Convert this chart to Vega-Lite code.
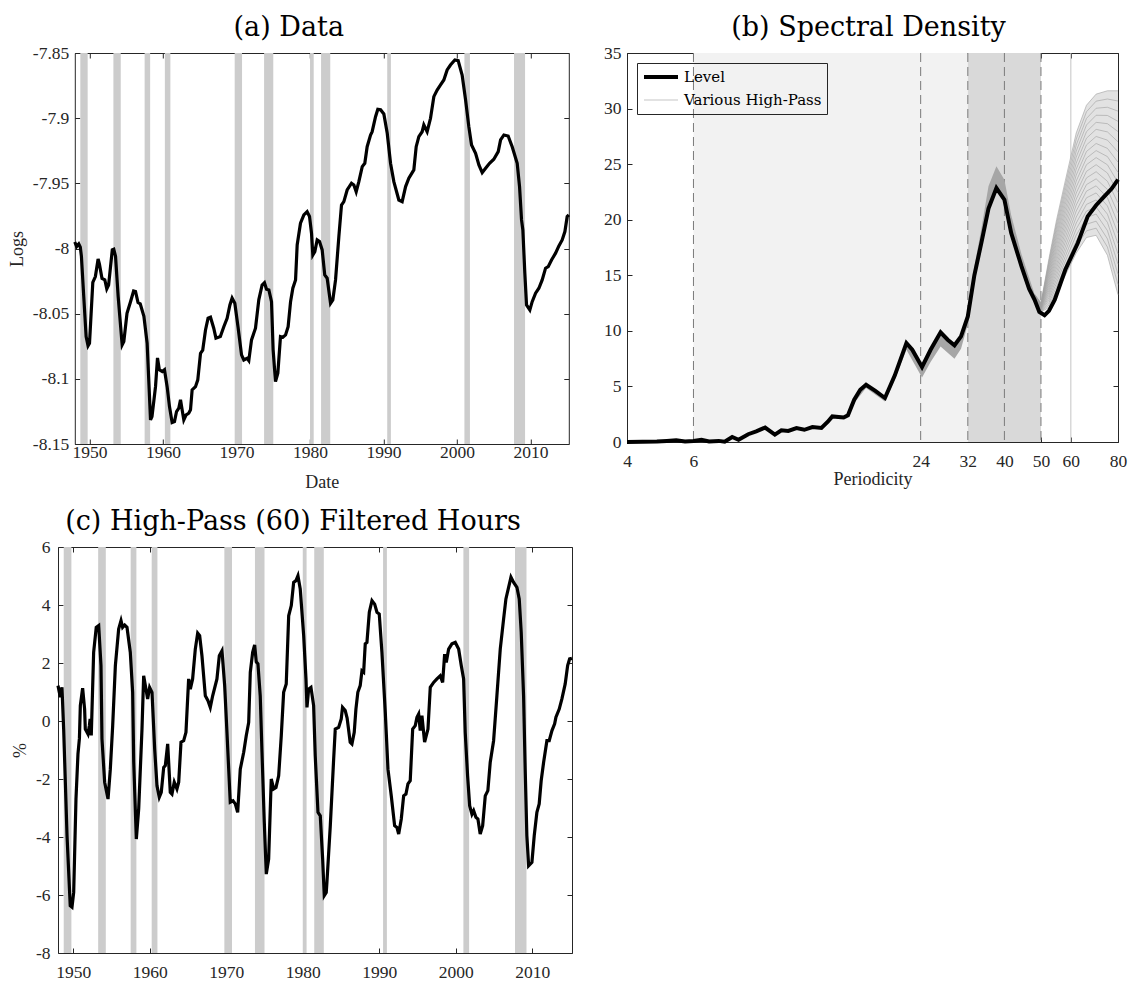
{
  "$schema": "https://vega.github.io/schema/vega-lite/v6.json",
  "padding": {"left": 8, "top": 14, "right": 2, "bottom": 0},
  "background": "white",
  "config": {
    "locale": {"number": {"decimal": ".", "thousands": ",", "grouping": [3], "currency": ["$", ""], "minus": "-"}},
    "view": {"stroke": null},
    "title": {"font": "DejaVu Serif", "fontSize": 27, "fontWeight": "normal", "color": "#000000", "baseline": "alphabetic", "offset": 2},
    "axis": {"domain": true, "domainColor": "#262626", "domainWidth": 1, "grid": false, "ticks": true, "tickSize": -5, "tickColor": "#262626", "tickWidth": 1, "labelFont": "Liberation Serif", "labelFontSize": 17.5, "labelColor": "#262626", "titleFont": "Liberation Serif", "titleFontSize": 18, "titleFontWeight": "normal", "titleColor": "#262626", "labelFlush": false, "labelOverlap": false, "zindex": 1},
    "legend": {"orient": "top-left", "offset": 10, "padding": 5, "rowPadding": 5, "clipHeight": 18, "strokeColor": "#262626", "symbolType": "stroke", "symbolSize": 1156, "labelFont": "DejaVu Serif", "labelFontSize": 15, "labelColor": "#000000", "labelOffset": 4, "cornerRadius": 0}
  },
  "datasets": {
    "rec": [
      {"s": 1948.75, "e": 1949.75}, {"s": 1953.25, "e": 1954.25}, {"s": 1957.5, "e": 1958.25}, {"s": 1960.25, "e": 1961.0},
      {"s": 1969.75, "e": 1970.75}, {"s": 1973.75, "e": 1975.0}, {"s": 1980.0, "e": 1980.5}, {"s": 1981.5, "e": 1982.75},
      {"s": 1990.5, "e": 1991.0}, {"s": 2001.0, "e": 2001.75}, {"s": 2007.75, "e": 2009.25}
    ],
    "hours": [
      {"t": 1948.0, "v": -7.995}, {"t": 1948.25, "v": -7.9985}, {"t": 1948.54, "v": -7.9965}, {"t": 1948.75, "v": -7.999},
      {"t": 1948.9, "v": -8.006}, {"t": 1949.22, "v": -8.037}, {"t": 1949.54, "v": -8.0676}, {"t": 1949.8, "v": -8.0747},
      {"t": 1950.0, "v": -8.0727}, {"t": 1950.1, "v": -8.0625}, {"t": 1950.45, "v": -8.026}, {"t": 1950.8, "v": -8.0215},
      {"t": 1951.17, "v": -8.008}, {"t": 1951.35, "v": -8.012}, {"t": 1951.7, "v": -8.023}, {"t": 1952.08, "v": -8.024},
      {"t": 1952.35, "v": -8.031}, {"t": 1952.6, "v": -8.028}, {"t": 1953.1, "v": -8.001}, {"t": 1953.3, "v": -8.0005},
      {"t": 1953.54, "v": -8.006}, {"t": 1953.9, "v": -8.037}, {"t": 1954.44, "v": -8.074}, {"t": 1954.67, "v": -8.0714},
      {"t": 1955.1, "v": -8.0497}, {"t": 1955.58, "v": -8.0408}, {"t": 1956.0, "v": -8.0326}, {"t": 1956.26, "v": -8.033},
      {"t": 1956.6, "v": -8.0415}, {"t": 1956.9, "v": -8.0425}, {"t": 1957.4, "v": -8.052}, {"t": 1957.84, "v": -8.0727},
      {"t": 1958.3, "v": -8.1315}, {"t": 1958.5, "v": -8.129}, {"t": 1958.98, "v": -8.106}, {"t": 1959.25, "v": -8.084},
      {"t": 1959.5, "v": -8.093}, {"t": 1959.9, "v": -8.0944}, {"t": 1960.2, "v": -8.093}, {"t": 1960.56, "v": -8.106},
      {"t": 1960.88, "v": -8.1213}, {"t": 1961.24, "v": -8.1335}, {"t": 1961.56, "v": -8.1328}, {"t": 1961.84, "v": -8.1251},
      {"t": 1962.15, "v": -8.1225}, {"t": 1962.38, "v": -8.1161}, {"t": 1962.6, "v": -8.1238}, {"t": 1962.83, "v": -8.1315},
      {"t": 1963.15, "v": -8.1277}, {"t": 1963.5, "v": -8.1264}, {"t": 1963.74, "v": -8.1238}, {"t": 1963.96, "v": -8.1085},
      {"t": 1964.42, "v": -8.106}, {"t": 1964.73, "v": -8.1008}, {"t": 1965.1, "v": -8.0804}, {"t": 1965.4, "v": -8.078},
      {"t": 1965.78, "v": -8.0625}, {"t": 1966.13, "v": -8.0535}, {"t": 1966.46, "v": -8.0527}, {"t": 1966.9, "v": -8.0612},
      {"t": 1967.2, "v": -8.0688}, {"t": 1967.8, "v": -8.0676}, {"t": 1968.27, "v": -8.06}, {"t": 1968.72, "v": -8.0535},
      {"t": 1969.1, "v": -8.0433}, {"t": 1969.4, "v": -8.0381}, {"t": 1969.77, "v": -8.042}, {"t": 1970.2, "v": -8.06},
      {"t": 1970.68, "v": -8.0816}, {"t": 1970.99, "v": -8.0855}, {"t": 1971.44, "v": -8.0842}, {"t": 1971.67, "v": -8.086},
      {"t": 1972.04, "v": -8.0701}, {"t": 1972.58, "v": -8.0612}, {"t": 1973.03, "v": -8.0394}, {"t": 1973.48, "v": -8.028},
      {"t": 1973.8, "v": -8.0262}, {"t": 1974.08, "v": -8.0312}, {"t": 1974.4, "v": -8.0318}, {"t": 1974.76, "v": -8.0408},
      {"t": 1974.98, "v": -8.0778}, {"t": 1975.3, "v": -8.1021}, {"t": 1975.62, "v": -8.0957}, {"t": 1975.98, "v": -8.0676},
      {"t": 1976.3, "v": -8.0681}, {"t": 1976.67, "v": -8.0663}, {"t": 1977.02, "v": -8.06}, {"t": 1977.35, "v": -8.0408},
      {"t": 1977.66, "v": -8.0305}, {"t": 1978.03, "v": -8.0241}, {"t": 1978.25, "v": -7.9973}, {"t": 1978.7, "v": -7.9806},
      {"t": 1979.16, "v": -7.9742}, {"t": 1979.6, "v": -7.9717}, {"t": 1979.93, "v": -7.9755}, {"t": 1980.2, "v": -7.9883},
      {"t": 1980.38, "v": -8.005}, {"t": 1980.65, "v": -8.0024}, {"t": 1980.97, "v": -7.9934}, {"t": 1981.29, "v": -7.9947},
      {"t": 1981.65, "v": -8.0011}, {"t": 1982.0, "v": -8.0203}, {"t": 1982.33, "v": -8.0228}, {"t": 1982.79, "v": -8.042},
      {"t": 1983.1, "v": -8.0394}, {"t": 1983.47, "v": -8.0241}, {"t": 1983.92, "v": -7.9909}, {"t": 1984.28, "v": -7.9666},
      {"t": 1984.6, "v": -7.964}, {"t": 1985.05, "v": -7.9551}, {"t": 1985.64, "v": -7.9499}, {"t": 1985.96, "v": -7.9512},
      {"t": 1986.28, "v": -7.9564}, {"t": 1986.64, "v": -7.9487}, {"t": 1987.1, "v": -7.9372}, {"t": 1987.45, "v": -7.9346},
      {"t": 1987.77, "v": -7.9219}, {"t": 1988.23, "v": -7.9129}, {"t": 1988.45, "v": -7.9104}, {"t": 1988.91, "v": -7.8989},
      {"t": 1989.22, "v": -7.8932}, {"t": 1989.6, "v": -7.8935}, {"t": 1990.04, "v": -7.8968}, {"t": 1990.5, "v": -7.9116},
      {"t": 1990.95, "v": -7.9346}, {"t": 1991.4, "v": -7.9487}, {"t": 1992.08, "v": -7.9628}, {"t": 1992.53, "v": -7.964},
      {"t": 1993.0, "v": -7.9525}, {"t": 1993.44, "v": -7.9461}, {"t": 1994.12, "v": -7.9397}, {"t": 1994.44, "v": -7.9219},
      {"t": 1994.8, "v": -7.9142}, {"t": 1995.25, "v": -7.9104}, {"t": 1995.48, "v": -7.9052}, {"t": 1995.93, "v": -7.9104},
      {"t": 1996.39, "v": -7.9001}, {"t": 1996.84, "v": -7.8835}, {"t": 1997.29, "v": -7.8784}, {"t": 1997.75, "v": -7.8745},
      {"t": 1998.2, "v": -7.8707}, {"t": 1998.65, "v": -7.863}, {"t": 1999.1, "v": -7.8592}, {"t": 1999.7, "v": -7.8554},
      {"t": 2000.15, "v": -7.8559}, {"t": 2000.69, "v": -7.8669}, {"t": 2001.16, "v": -7.886}, {"t": 2001.6, "v": -7.9065},
      {"t": 2001.97, "v": -7.9206}, {"t": 2002.52, "v": -7.9269}, {"t": 2002.97, "v": -7.9359}, {"t": 2003.42, "v": -7.9418},
      {"t": 2003.88, "v": -7.9384}, {"t": 2004.42, "v": -7.9346}, {"t": 2005.0, "v": -7.9315}, {"t": 2005.6, "v": -7.9257},
      {"t": 2005.92, "v": -7.9167}, {"t": 2006.37, "v": -7.9129}, {"t": 2006.95, "v": -7.9137}, {"t": 2007.5, "v": -7.9219},
      {"t": 2008.18, "v": -7.9346}, {"t": 2008.5, "v": -7.9525}, {"t": 2008.77, "v": -7.9781}, {"t": 2008.95, "v": -7.9858},
      {"t": 2009.22, "v": -8.019}, {"t": 2009.45, "v": -8.0433}, {"t": 2009.9, "v": -8.0471}, {"t": 2010.22, "v": -8.0408},
      {"t": 2010.68, "v": -8.0343}, {"t": 2011.13, "v": -8.0305}, {"t": 2011.58, "v": -8.0241}, {"t": 2012.04, "v": -8.0151},
      {"t": 2012.4, "v": -8.0139}, {"t": 2012.85, "v": -8.0088}, {"t": 2013.4, "v": -8.0036}, {"t": 2013.85, "v": -7.998},
      {"t": 2014.3, "v": -7.9934}, {"t": 2014.67, "v": -7.987}, {"t": 2014.98, "v": -7.9755}, {"t": 2015.2, "v": -7.9742}
    ],
    "hp": [
      {"t": 1948.0, "v": 1.22}, {"t": 1948.3, "v": 0.82}, {"t": 1948.52, "v": 1.16}, {"t": 1948.74, "v": -0.28},
      {"t": 1949.18, "v": -3.96}, {"t": 1949.6, "v": -6.37}, {"t": 1949.83, "v": -6.42}, {"t": 1950.05, "v": -5.91},
      {"t": 1950.35, "v": -2.69}, {"t": 1950.61, "v": -1.14}, {"t": 1950.8, "v": -0.6}, {"t": 1950.92, "v": 0.53},
      {"t": 1951.22, "v": 1.13}, {"t": 1951.48, "v": 0.41}, {"t": 1951.57, "v": -0.28}, {"t": 1951.92, "v": -0.45},
      {"t": 1952.1, "v": -0.16}, {"t": 1952.2, "v": 0.07}, {"t": 1952.35, "v": -0.5}, {"t": 1952.66, "v": 2.37},
      {"t": 1953.0, "v": 3.23}, {"t": 1953.32, "v": 3.29}, {"t": 1953.62, "v": 1.91}, {"t": 1953.75, "v": -0.62},
      {"t": 1954.1, "v": -2.11}, {"t": 1954.54, "v": -2.69}, {"t": 1954.84, "v": -1.66}, {"t": 1955.15, "v": -0.16},
      {"t": 1955.5, "v": 1.91}, {"t": 1955.93, "v": 3.17}, {"t": 1956.24, "v": 3.46}, {"t": 1956.45, "v": 3.23},
      {"t": 1956.72, "v": 3.31}, {"t": 1957.02, "v": 3.23}, {"t": 1957.45, "v": 2.37}, {"t": 1957.76, "v": 0.99},
      {"t": 1957.9, "v": -1.42}, {"t": 1958.24, "v": -4.07}, {"t": 1958.55, "v": -3.03}, {"t": 1958.98, "v": -0.28},
      {"t": 1959.2, "v": 1.56}, {"t": 1959.5, "v": 1.1}, {"t": 1959.72, "v": 0.76}, {"t": 1959.98, "v": 1.16},
      {"t": 1960.29, "v": 0.99}, {"t": 1960.64, "v": -0.97}, {"t": 1960.94, "v": -2.23}, {"t": 1961.24, "v": -2.63},
      {"t": 1961.5, "v": -2.46}, {"t": 1961.82, "v": -1.6}, {"t": 1962.03, "v": -1.54}, {"t": 1962.34, "v": -0.79},
      {"t": 1962.68, "v": -2.46}, {"t": 1962.9, "v": -2.52}, {"t": 1963.2, "v": -2.11}, {"t": 1963.55, "v": -2.34},
      {"t": 1963.78, "v": -2.11}, {"t": 1964.08, "v": -0.73}, {"t": 1964.43, "v": -0.68}, {"t": 1964.73, "v": -0.39},
      {"t": 1965.08, "v": 1.45}, {"t": 1965.3, "v": 1.1}, {"t": 1965.6, "v": 1.45}, {"t": 1965.95, "v": 2.48},
      {"t": 1966.26, "v": 3.03}, {"t": 1966.52, "v": 2.94}, {"t": 1966.82, "v": 2.25}, {"t": 1967.26, "v": 0.87},
      {"t": 1967.61, "v": 0.7}, {"t": 1967.91, "v": 0.47}, {"t": 1968.22, "v": 0.87}, {"t": 1968.78, "v": 1.45},
      {"t": 1969.09, "v": 2.25}, {"t": 1969.44, "v": 2.42}, {"t": 1969.79, "v": 1.22}, {"t": 1970.09, "v": -0.39},
      {"t": 1970.52, "v": -2.8}, {"t": 1970.88, "v": -2.75}, {"t": 1971.18, "v": -2.86}, {"t": 1971.49, "v": -3.15},
      {"t": 1971.83, "v": -1.66}, {"t": 1972.28, "v": -1.08}, {"t": 1972.61, "v": -0.51}, {"t": 1972.93, "v": -0.05},
      {"t": 1973.14, "v": 1.68}, {"t": 1973.45, "v": 2.37}, {"t": 1973.71, "v": 2.62}, {"t": 1973.92, "v": 2.04},
      {"t": 1974.14, "v": 1.97}, {"t": 1974.44, "v": 0.87}, {"t": 1974.67, "v": -1.08}, {"t": 1974.97, "v": -3.49},
      {"t": 1975.23, "v": -5.28}, {"t": 1975.54, "v": -4.76}, {"t": 1975.88, "v": -2.0}, {"t": 1976.2, "v": -2.34},
      {"t": 1976.5, "v": -2.29}, {"t": 1976.85, "v": -1.89}, {"t": 1977.19, "v": -0.51}, {"t": 1977.5, "v": 0.99},
      {"t": 1977.84, "v": 1.28}, {"t": 1978.16, "v": 3.63}, {"t": 1978.5, "v": 3.98}, {"t": 1978.81, "v": 4.78},
      {"t": 1979.11, "v": 4.84}, {"t": 1979.37, "v": 5.01}, {"t": 1979.67, "v": 4.55}, {"t": 1980.12, "v": 2.94},
      {"t": 1980.42, "v": 1.45}, {"t": 1980.55, "v": 0.47}, {"t": 1980.77, "v": 1.1}, {"t": 1981.07, "v": 1.16},
      {"t": 1981.42, "v": 0.53}, {"t": 1981.63, "v": -1.2}, {"t": 1981.99, "v": -3.15}, {"t": 1982.29, "v": -3.27},
      {"t": 1982.6, "v": -4.76}, {"t": 1982.81, "v": -6.02}, {"t": 1983.07, "v": -5.91}, {"t": 1983.16, "v": -5.56},
      {"t": 1983.6, "v": -3.61}, {"t": 1984.04, "v": -1.31}, {"t": 1984.25, "v": -0.28}, {"t": 1984.69, "v": -0.22},
      {"t": 1985.03, "v": 0.07}, {"t": 1985.2, "v": 0.47}, {"t": 1985.55, "v": 0.36}, {"t": 1985.8, "v": 0.1},
      {"t": 1986.2, "v": -0.73}, {"t": 1986.43, "v": -0.79}, {"t": 1986.73, "v": -0.39}, {"t": 1986.95, "v": 0.41},
      {"t": 1987.2, "v": 0.99}, {"t": 1987.51, "v": 1.22}, {"t": 1987.74, "v": 1.73}, {"t": 1987.96, "v": 1.68},
      {"t": 1988.17, "v": 2.66}, {"t": 1988.39, "v": 2.71}, {"t": 1988.7, "v": 3.75}, {"t": 1989.05, "v": 4.15},
      {"t": 1989.4, "v": 4.03}, {"t": 1989.7, "v": 3.75}, {"t": 1990.0, "v": 3.69}, {"t": 1990.35, "v": 2.37},
      {"t": 1990.79, "v": 0.3}, {"t": 1991.14, "v": -1.66}, {"t": 1991.57, "v": -2.58}, {"t": 1992.01, "v": -3.61},
      {"t": 1992.31, "v": -3.67}, {"t": 1992.54, "v": -3.9}, {"t": 1992.88, "v": -3.38}, {"t": 1993.19, "v": -2.58},
      {"t": 1993.49, "v": -2.52}, {"t": 1993.75, "v": -2.17}, {"t": 1994.05, "v": -2.06}, {"t": 1994.37, "v": -0.28},
      {"t": 1994.71, "v": -0.16}, {"t": 1994.93, "v": 0.13}, {"t": 1995.15, "v": 0.24}, {"t": 1995.36, "v": -0.33},
      {"t": 1995.58, "v": 0.18}, {"t": 1995.93, "v": -0.73}, {"t": 1996.37, "v": -0.28}, {"t": 1996.67, "v": 1.16},
      {"t": 1997.11, "v": 1.33}, {"t": 1997.54, "v": 1.45}, {"t": 1997.97, "v": 1.56}, {"t": 1998.29, "v": 1.33},
      {"t": 1998.55, "v": 2.31}, {"t": 1998.76, "v": 2.02}, {"t": 1999.07, "v": 2.48}, {"t": 1999.5, "v": 2.66},
      {"t": 1999.94, "v": 2.71}, {"t": 2000.38, "v": 2.48}, {"t": 2000.72, "v": 1.91}, {"t": 2001.03, "v": 1.45},
      {"t": 2001.24, "v": -0.39}, {"t": 2001.55, "v": -1.89}, {"t": 2001.82, "v": -2.92}, {"t": 2002.12, "v": -3.21},
      {"t": 2002.34, "v": -3.09}, {"t": 2002.64, "v": -3.32}, {"t": 2002.9, "v": -3.38}, {"t": 2003.2, "v": -3.9},
      {"t": 2003.52, "v": -3.61}, {"t": 2003.86, "v": -2.58}, {"t": 2004.2, "v": -2.4}, {"t": 2004.51, "v": -1.42},
      {"t": 2004.95, "v": -0.68}, {"t": 2005.16, "v": 0.07}, {"t": 2005.38, "v": 0.87}, {"t": 2005.82, "v": 2.48},
      {"t": 2006.26, "v": 3.52}, {"t": 2006.56, "v": 4.21}, {"t": 2006.91, "v": 4.61}, {"t": 2007.22, "v": 4.96},
      {"t": 2007.57, "v": 4.78}, {"t": 2008.0, "v": 4.61}, {"t": 2008.3, "v": 4.21}, {"t": 2008.56, "v": 3.06},
      {"t": 2008.87, "v": 0.87}, {"t": 2009.08, "v": -1.66}, {"t": 2009.3, "v": -3.96}, {"t": 2009.53, "v": -4.99},
      {"t": 2009.96, "v": -4.87}, {"t": 2010.26, "v": -3.96}, {"t": 2010.61, "v": -3.15}, {"t": 2010.91, "v": -2.86},
      {"t": 2011.17, "v": -2.06}, {"t": 2011.49, "v": -1.42}, {"t": 2011.92, "v": -0.68}, {"t": 2012.22, "v": -0.68},
      {"t": 2012.58, "v": -0.33}, {"t": 2012.93, "v": -0.1}, {"t": 2013.1, "v": 0.13}, {"t": 2013.53, "v": 0.41},
      {"t": 2013.88, "v": 0.76}, {"t": 2014.31, "v": 1.28}, {"t": 2014.63, "v": 1.91}, {"t": 2014.89, "v": 2.14},
      {"t": 2015.19, "v": 2.16}
    ],
    "level": [
      {"p": 4, "v": 0.0}, {"p": 4.4, "v": 0.02}, {"p": 4.8, "v": 0.05}, {"p": 5.1, "v": 0.1}, {"p": 5.4, "v": 0.15},
      {"p": 5.7, "v": 0.05}, {"p": 6.0, "v": 0.1}, {"p": 6.3, "v": 0.2}, {"p": 6.6, "v": 0.05}, {"p": 7.0, "v": 0.1},
      {"p": 7.26, "v": 0.02}, {"p": 7.6, "v": 0.45}, {"p": 7.9, "v": 0.2}, {"p": 8.38, "v": 0.7}, {"p": 8.8, "v": 0.95},
      {"p": 9.29, "v": 1.3}, {"p": 9.86, "v": 0.66}, {"p": 10.26, "v": 1.05}, {"p": 10.7, "v": 1.0}, {"p": 11.25, "v": 1.26},
      {"p": 11.8, "v": 1.1}, {"p": 12.4, "v": 1.35}, {"p": 13.1, "v": 1.26}, {"p": 13.6, "v": 1.8}, {"p": 14.0, "v": 2.3},
      {"p": 15.0, "v": 2.2}, {"p": 15.4, "v": 2.4}, {"p": 16.0, "v": 3.8}, {"p": 16.6, "v": 4.7}, {"p": 17.2, "v": 5.15},
      {"p": 18.2, "v": 4.6}, {"p": 19.3, "v": 3.96}, {"p": 20.5, "v": 6.0}, {"p": 22.0, "v": 8.9}, {"p": 22.8, "v": 8.3},
      {"p": 24.2, "v": 6.75}, {"p": 25.5, "v": 8.3}, {"p": 27.1, "v": 9.87}, {"p": 28.3, "v": 9.2}, {"p": 29.5, "v": 8.7},
      {"p": 30.7, "v": 9.5}, {"p": 32, "v": 11.3}, {"p": 33.3, "v": 15.0}, {"p": 34.8, "v": 18.0}, {"p": 36.3, "v": 21.0},
      {"p": 38.1, "v": 22.85}, {"p": 40, "v": 21.8}, {"p": 41.7, "v": 18.8}, {"p": 44.4, "v": 15.8}, {"p": 46.5, "v": 13.8},
      {"p": 48.1, "v": 12.8}, {"p": 49.5, "v": 11.7}, {"p": 51.1, "v": 11.4}, {"p": 52.5, "v": 11.8}, {"p": 54.4, "v": 12.8},
      {"p": 58, "v": 15.5}, {"p": 62.6, "v": 17.9}, {"p": 66.5, "v": 20.3}, {"p": 70, "v": 21.3}, {"p": 73.6, "v": 22.1},
      {"p": 77, "v": 22.8}, {"p": 80, "v": 23.6}
    ],
    "band": [
      {"p": 16, "lo": 3.5, "hi": 3.8}, {"p": 17.2, "lo": 4.85, "hi": 5.15}, {"p": 19.3, "lo": 3.65, "hi": 3.96},
      {"p": 20.5, "lo": 5.6, "hi": 6.0}, {"p": 22, "lo": 8.3, "hi": 8.9}, {"p": 24.2, "lo": 5.8, "hi": 6.9},
      {"p": 25.5, "lo": 7.2, "hi": 8.3}, {"p": 27.1, "lo": 8.6, "hi": 9.9}, {"p": 29.5, "lo": 7.5, "hi": 8.7},
      {"p": 30.7, "lo": 8.4, "hi": 9.5}, {"p": 32, "lo": 10.6, "hi": 11.4}, {"p": 33.3, "lo": 14.6, "hi": 15.8},
      {"p": 34.8, "lo": 17.6, "hi": 19.3}, {"p": 36.3, "lo": 20.8, "hi": 23.0}, {"p": 38.1, "lo": 22.8, "hi": 24.8},
      {"p": 40, "lo": 21.7, "hi": 23.6}, {"p": 41.7, "lo": 18.7, "hi": 20.4}, {"p": 44.4, "lo": 15.7, "hi": 16.9},
      {"p": 48.1, "lo": 12.8, "hi": 13.3}, {"p": 50, "lo": 11.7, "hi": 12.5}
    ],
    "fanenv": [
      {"p": 48.1, "lo": 12.8, "hi": 13.3}, {"p": 50, "lo": 11.7, "hi": 12.5}, {"p": 52.5, "lo": 12.1, "hi": 16.5},
      {"p": 55, "lo": 13.3, "hi": 20.0}, {"p": 58, "lo": 15.0, "hi": 23.5}, {"p": 62, "lo": 17.0, "hi": 27.8},
      {"p": 66, "lo": 18.4, "hi": 30.3}, {"p": 70, "lo": 18.6, "hi": 31.3}, {"p": 75, "lo": 16.8, "hi": 31.6},
      {"p": 80, "lo": 13.25, "hi": 31.6}
    ],
    "fan": [
      {"p": 48.1, "k0": 12.8, "k1": 12.83, "k2": 12.85, "k3": 12.88, "k4": 12.9, "k5": 12.93, "k6": 12.95, "k7": 12.98, "k8": 13.0, "k9": 13.03, "k10": 13.05, "k11": 13.08, "k12": 13.1, "k13": 13.13, "k14": 13.15, "k15": 13.18, "k16": 13.2, "k17": 13.23, "k18": 13.25, "k19": 13.28, "k20": 13.3},
      {"p": 50, "k0": 11.7, "k1": 11.74, "k2": 11.78, "k3": 11.82, "k4": 11.86, "k5": 11.9, "k6": 11.94, "k7": 11.98, "k8": 12.02, "k9": 12.06, "k10": 12.1, "k11": 12.14, "k12": 12.18, "k13": 12.22, "k14": 12.26, "k15": 12.3, "k16": 12.34, "k17": 12.38, "k18": 12.42, "k19": 12.46, "k20": 12.5},
      {"p": 52.5, "k0": 12.1, "k1": 12.32, "k2": 12.54, "k3": 12.76, "k4": 12.98, "k5": 13.2, "k6": 13.42, "k7": 13.64, "k8": 13.86, "k9": 14.08, "k10": 14.3, "k11": 14.52, "k12": 14.74, "k13": 14.96, "k14": 15.18, "k15": 15.4, "k16": 15.62, "k17": 15.84, "k18": 16.06, "k19": 16.28, "k20": 16.5},
      {"p": 55, "k0": 13.3, "k1": 13.64, "k2": 13.97, "k3": 14.31, "k4": 14.64, "k5": 14.98, "k6": 15.31, "k7": 15.65, "k8": 15.98, "k9": 16.32, "k10": 16.65, "k11": 16.99, "k12": 17.32, "k13": 17.66, "k14": 17.99, "k15": 18.33, "k16": 18.66, "k17": 19.0, "k18": 19.33, "k19": 19.67, "k20": 20.0},
      {"p": 58, "k0": 15.0, "k1": 15.43, "k2": 15.85, "k3": 16.28, "k4": 16.7, "k5": 17.13, "k6": 17.55, "k7": 17.98, "k8": 18.4, "k9": 18.83, "k10": 19.25, "k11": 19.68, "k12": 20.1, "k13": 20.53, "k14": 20.95, "k15": 21.38, "k16": 21.8, "k17": 22.23, "k18": 22.65, "k19": 23.08, "k20": 23.5},
      {"p": 62, "k0": 17.0, "k1": 17.54, "k2": 18.08, "k3": 18.62, "k4": 19.16, "k5": 19.7, "k6": 20.24, "k7": 20.78, "k8": 21.32, "k9": 21.86, "k10": 22.4, "k11": 22.94, "k12": 23.48, "k13": 24.02, "k14": 24.56, "k15": 25.1, "k16": 25.64, "k17": 26.18, "k18": 26.72, "k19": 27.26, "k20": 27.8},
      {"p": 66, "k0": 18.4, "k1": 19.0, "k2": 19.59, "k3": 20.19, "k4": 20.78, "k5": 21.38, "k6": 21.97, "k7": 22.57, "k8": 23.16, "k9": 23.76, "k10": 24.35, "k11": 24.95, "k12": 25.54, "k13": 26.14, "k14": 26.73, "k15": 27.33, "k16": 27.92, "k17": 28.52, "k18": 29.11, "k19": 29.71, "k20": 30.3},
      {"p": 70, "k0": 18.6, "k1": 19.24, "k2": 19.87, "k3": 20.51, "k4": 21.14, "k5": 21.78, "k6": 22.41, "k7": 23.05, "k8": 23.68, "k9": 24.32, "k10": 24.95, "k11": 25.59, "k12": 26.22, "k13": 26.86, "k14": 27.49, "k15": 28.13, "k16": 28.76, "k17": 29.4, "k18": 30.03, "k19": 30.67, "k20": 31.3},
      {"p": 75, "k0": 16.8, "k1": 17.54, "k2": 18.28, "k3": 19.02, "k4": 19.76, "k5": 20.5, "k6": 21.24, "k7": 21.98, "k8": 22.72, "k9": 23.46, "k10": 24.2, "k11": 24.94, "k12": 25.68, "k13": 26.42, "k14": 27.16, "k15": 27.9, "k16": 28.64, "k17": 29.38, "k18": 30.12, "k19": 30.86, "k20": 31.6},
      {"p": 80, "k0": 13.25, "k1": 14.17, "k2": 15.09, "k3": 16.0, "k4": 16.92, "k5": 17.84, "k6": 18.76, "k7": 19.67, "k8": 20.59, "k9": 21.51, "k10": 22.43, "k11": 23.34, "k12": 24.26, "k13": 25.18, "k14": 26.1, "k15": 27.01, "k16": 27.93, "k17": 28.85, "k18": 29.77, "k19": 30.68, "k20": 31.6}
    ]
  },
  "concat": [
    {
      "width": 494, "height": 391,
      "title": {"text": "(a) Data", "dx": -33},
      "layer": [
        {
          "data": {"name": "rec"},
          "mark": {"type": "rect", "color": "#cccccc"},
          "encoding": {
            "x": {"field": "s", "type": "quantitative", "scale": {"domain": [1948, 2015.2], "nice": false, "zero": false},
                  "axis": {"orient": "bottom", "values": [1950, 1960, 1970, 1980, 1990, 2000, 2010], "format": "d", "title": "Date", "labelPadding": 4, "titlePadding": 13}},
            "x2": {"field": "e"},
            "y": {"datum": -8.15, "type": "quantitative", "scale": {"domain": [-8.15, -7.85], "nice": false, "zero": false},
                  "axis": {"orient": "right", "labels": false, "title": null, "values": [-8.15, -8.1, -8.05, -8, -7.95, -7.9, -7.85]}},
            "y2": {"datum": -7.85}
          }
        },
        {
          "data": {"name": "hours"},
          "mark": {"type": "line", "color": "#000000", "strokeWidth": 3.2},
          "encoding": {
            "x": {"field": "t", "type": "quantitative", "axis": {"orient": "top", "labels": false, "title": null, "values": [1950, 1960, 1970, 1980, 1990, 2000, 2010]}},
            "y": {"field": "v", "type": "quantitative", "axis": {"orient": "left", "title": "Logs", "values": [-8.15, -8.1, -8.05, -8, -7.95, -7.9, -7.85], "format": "~g", "labelPadding": 11, "titlePadding": 6}}
          }
        }
      ],
      "resolve": {"axis": {"x": "independent", "y": "independent"}}
    },
    {
      "width": 491, "height": 389,
      "title": {"text": "(b) Spectral Density", "dx": -4},
      "layer": [
        {
          "data": {"values": [{"from": 6, "to": 32}]},
          "mark": {"type": "rect", "color": "#f2f2f2"},
          "encoding": {
            "x": {"field": "from", "type": "quantitative", "scale": {"type": "log", "domain": [4, 80], "nice": false},
                  "axis": {"orient": "bottom", "values": [4, 6, 24, 32, 40, 50, 60, 80], "format": "d", "title": "Periodicity", "labelPadding": 15, "titlePadding": 1}},
            "x2": {"field": "to"},
            "y": {"datum": 0, "type": "quantitative", "scale": {"domain": [0, 35], "nice": false},
                  "axis": {"orient": "right", "labels": false, "title": null, "values": [0, 5, 10, 15, 20, 25, 30, 35]}},
            "y2": {"datum": 35}
          }
        },
        {
          "data": {"values": [{"from": 32, "to": 50}]},
          "mark": {"type": "rect", "color": "#d9d9d9"},
          "encoding": {
            "x": {"field": "from", "type": "quantitative", "axis": null},
            "x2": {"field": "to"},
            "y": {"datum": 0, "type": "quantitative", "axis": null},
            "y2": {"datum": 35}
          }
        },
        {
          "data": {"values": [{"p": 60}]},
          "mark": {"type": "rule", "color": "#c4c4c4", "strokeWidth": 1},
          "encoding": {"x": {"field": "p", "type": "quantitative", "axis": null}}
        },
        {
          "data": {"values": [{"p": 6}, {"p": 24}, {"p": 32}, {"p": 40}, {"p": 50}]},
          "mark": {"type": "rule", "color": "#7a7a7a", "strokeWidth": 1, "strokeDash": [9, 5]},
          "encoding": {"x": {"field": "p", "type": "quantitative", "axis": null}}
        },
        {
          "data": {"name": "fanenv"},
          "mark": {"type": "area", "color": "#e2e2e2"},
          "encoding": {
            "x": {"field": "p", "type": "quantitative", "axis": null},
            "y": {"field": "lo", "type": "quantitative", "axis": null},
            "y2": {"field": "hi"}
          }
        },
        {
          "data": {"name": "band"},
          "mark": {"type": "area", "color": "#a6a6a6"},
          "encoding": {
            "x": {"field": "p", "type": "quantitative", "axis": null},
            "y": {"field": "lo", "type": "quantitative", "axis": null},
            "y2": {"field": "hi"}
          }
        },
        {
          "data": {"name": "fan"},
          "transform": [{"fold": ["k0", "k1", "k2", "k3", "k4", "k5", "k6", "k7", "k8", "k9", "k10", "k11", "k12", "k13", "k14", "k15", "k16", "k17", "k18", "k19", "k20"], "as": ["line", "val"]}],
          "mark": {"type": "line"},
          "encoding": {
            "x": {"field": "p", "type": "quantitative", "axis": null},
            "y": {"field": "val", "type": "quantitative", "axis": null},
            "detail": {"field": "line", "type": "nominal"},
            "color": {"datum": "Various High-Pass", "type": "nominal", "scale": {"domain": ["Level", "Various High-Pass"], "range": ["#000000", "#a0a0a0"]}, "legend": {"title": null}},
            "strokeWidth": {"datum": "Various High-Pass", "type": "ordinal", "scale": {"type": "point", "padding": 0, "domain": ["Level", "Various High-Pass"], "range": [4, 0.6]}, "legend": {"title": null}}
          }
        },
        {
          "data": {"name": "level"},
          "mark": {"type": "line"},
          "encoding": {
            "x": {"field": "p", "type": "quantitative", "axis": {"orient": "top", "labels": false, "title": null, "values": [4, 6, 24, 32, 40, 50, 60, 80]}},
            "y": {"field": "v", "type": "quantitative", "axis": {"orient": "left", "title": null, "values": [0, 5, 10, 15, 20, 25, 30, 35], "format": "d", "labelPadding": 11}},
            "color": {"datum": "Level", "type": "nominal", "legend": {"title": null}},
            "strokeWidth": {"datum": "Level", "type": "ordinal", "legend": {"title": null}}
          }
        }
      ],
      "resolve": {"axis": {"x": "independent", "y": "independent"}}
    },
    {
      "width": 514, "height": 406,
      "title": {"text": "(c) High-Pass (60) Filtered Hours", "dx": -22},
      "layer": [
        {
          "data": {"name": "rec"},
          "mark": {"type": "rect", "color": "#cccccc"},
          "encoding": {
            "x": {"field": "s", "type": "quantitative", "scale": {"domain": [1948, 2015.2], "nice": false, "zero": false},
                  "axis": {"orient": "bottom", "values": [1950, 1960, 1970, 1980, 1990, 2000, 2010], "format": "d", "title": null, "labelPadding": 15}},
            "x2": {"field": "e"},
            "y": {"datum": -8, "type": "quantitative", "scale": {"domain": [-8, 6], "nice": false, "zero": false},
                  "axis": {"orient": "right", "labels": false, "title": null, "values": [-8, -6, -4, -2, 0, 2, 4, 6]}},
            "y2": {"datum": 6}
          }
        },
        {
          "data": {"name": "rec"},
          "mark": {"type": "rect", "opacity": 0},
          "encoding": {
            "x": {"field": "s", "type": "quantitative", "axis": null},
            "x2": {"field": "e"},
            "y": {"datum": -8, "type": "quantitative",
                  "axis": {"orient": "right", "labels": false, "title": null, "domain": false, "tickSize": 20, "tickOpacity": 0, "values": [-8, 6]}},
            "y2": {"datum": 6}
          }
        },
        {
          "data": {"name": "hp"},
          "mark": {"type": "line", "color": "#000000", "strokeWidth": 3.2},
          "encoding": {
            "x": {"field": "t", "type": "quantitative", "axis": {"orient": "top", "labels": false, "title": null, "values": [1950, 1960, 1970, 1980, 1990, 2000, 2010]}},
            "y": {"field": "v", "type": "quantitative", "axis": {"orient": "left", "title": "%", "values": [-8, -6, -4, -2, 0, 2, 4, 6], "format": "d", "labelPadding": 13, "titlePadding": 6}}
          }
        }
      ],
      "resolve": {"axis": {"x": "independent", "y": "independent"}}
    }
  ],
  "columns": 2,
  "align": "each",
  "center": {"column": true, "row": false},
  "spacing": {"row": 16, "column": 11},
  "resolve": {"scale": {"color": "independent", "strokeWidth": "independent"}, "legend": {"color": "independent", "strokeWidth": "independent"}}
}
